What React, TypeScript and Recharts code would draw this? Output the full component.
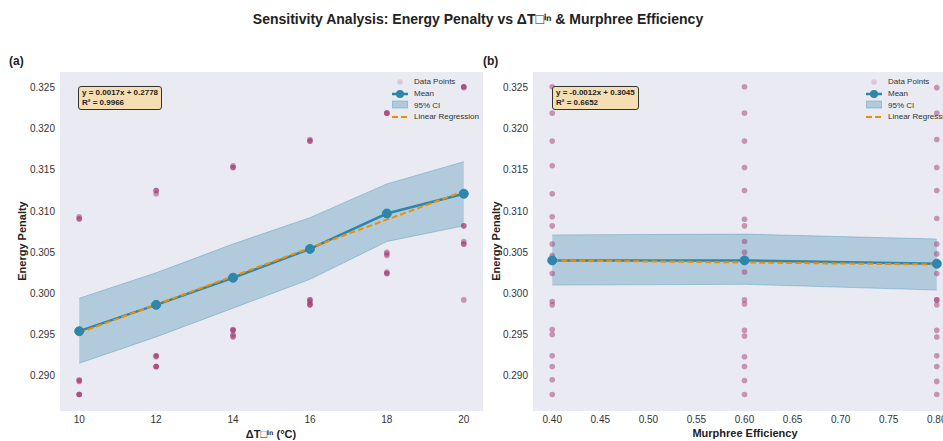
import {
  ComposedChart,
  XAxis,
  YAxis,
  CartesianGrid,
  Scatter,
  Line,
  Area,
} from "recharts";

const deltaT = [10, 12, 14, 16, 18, 20];
const efficiencies = [0.4, 0.6, 0.8];

// energy penalty samples, 3 per ΔT (ΔT order), one array per efficiency
const penaltyEff040 = [
  0.3093, 0.2895, 0.2877, 0.3121, 0.2924, 0.2911, 0.3155, 0.2956, 0.295,
  0.3185, 0.299, 0.2986, 0.3219, 0.3046, 0.3024, 0.3251, 0.3082, 0.306,
];
const penaltyEff060 = [
  0.309, 0.2894, 0.2877, 0.3125, 0.2923, 0.2911, 0.3153, 0.2955, 0.2948,
  0.3185, 0.2992, 0.2987, 0.3219, 0.305, 0.3026, 0.3251, 0.3082, 0.3063,
];
const penaltyEff080 = [
  0.3091, 0.2893, 0.2877, 0.3125, 0.2924, 0.2911, 0.3153, 0.2955, 0.2947,
  0.3187, 0.2992, 0.2986, 0.3219, 0.3048, 0.3024, 0.325, 0.2992, 0.306,
];
const penaltyByEff = [penaltyEff040, penaltyEff060, penaltyEff080];

const meanA = [0.2954, 0.2986, 0.3019, 0.3054, 0.3097, 0.3121];
const ciLowA = [0.2915, 0.2947, 0.2982, 0.3017, 0.3063, 0.3082];
const ciHighA = [0.2994, 0.3025, 0.306, 0.3092, 0.3133, 0.316];
const regA = [
  { x: 10, y: 0.2952 },
  { x: 20, y: 0.3124 },
];

const meanB = [0.304, 0.304, 0.3036];
const ciLowB = [0.301, 0.3011, 0.3004];
const ciHighB = [0.3071, 0.3072, 0.3066];
const regB = [
  { x: 0.4, y: 0.304 },
  { x: 0.8, y: 0.3035 },
];

const yTicks = [0.29, 0.295, 0.3, 0.305, 0.31, 0.315, 0.32, 0.325];
const xTicksA = [10, 12, 14, 16, 18, 20];
const xTicksB = [0.4, 0.45, 0.5, 0.55, 0.6, 0.65, 0.7, 0.75, 0.8];

const pointsA = efficiencies.flatMap((_, k) =>
  deltaT.flatMap((t, i) =>
    penaltyByEff[k].slice(3 * i, 3 * i + 3).map((v) => ({ x: t, y: v }))
  )
);
const pointsB = efficiencies.flatMap((e, k) =>
  penaltyByEff[k].map((v) => ({ x: e, y: v }))
);

const rowsA = deltaT.map((t, i) => ({
  x: t,
  mean: meanA[i],
  ci: [ciLowA[i], ciHighA[i]],
}));
const rowsB = efficiencies.map((e, i) => ({
  x: e,
  mean: meanB[i],
  ci: [ciLowB[i], ciHighB[i]],
}));

const FONT = "'Liberation Sans', Arial, sans-serif";
const BLUE = "#2e86ab";
const ORANGE = "#f18f01";
const PINK = "#a23b72";
const tick = { fill: "#333", fontSize: 10, fontFamily: FONT };

const dot = (props: any) => (
  <circle cx={props.cx} cy={props.cy} r={2.8} fill={PINK} fillOpacity={0.5} />
);

function Panel({
  rows,
  points,
  reg,
  domain,
  ticks,
  fmt,
}: {
  rows: any[];
  points: any[];
  reg: any[];
  domain: number[];
  ticks: number[];
  fmt: (v: number) => string;
}) {
  return (
    <ComposedChart
      width={490}
      height={441}
      data={rows}
      margin={{ top: 72, right: 7, bottom: 0, left: 0 }}
    >
      <rect x={60} y={72} width={423} height={339} fill="#eaeaf2" />
      <CartesianGrid stroke="#ffffff" strokeDasharray="2 2" />
      <XAxis
        dataKey="x"
        type="number"
        domain={domain}
        ticks={ticks}
        tickFormatter={fmt}
        allowDataOverflow
        height={30}
        axisLine={false}
        tickLine={false}
        tickSize={0}
        tickMargin={5}
        tick={tick}
      />
      <YAxis
        dataKey="y"
        type="number"
        domain={[0.2857, 0.3269]}
        ticks={yTicks}
        tickFormatter={(v: number) => v.toFixed(3)}
        allowDataOverflow
        width={60}
        axisLine={false}
        tickLine={false}
        tickSize={0}
        tickMargin={5}
        tick={tick}
      />
      <Scatter data={points} dataKey="y" shape={dot} isAnimationActive={false} />
      <Area
        dataKey="ci"
        type="linear"
        stroke={BLUE}
        strokeOpacity={0.35}
        strokeWidth={1}
        fill={BLUE}
        fillOpacity={0.3}
        isAnimationActive={false}
      />
      <Line
        dataKey="mean"
        type="linear"
        stroke={BLUE}
        strokeWidth={2.5}
        dot={{ r: 4.5, fill: BLUE, stroke: BLUE, strokeWidth: 1 }}
        activeDot={false}
        isAnimationActive={false}
      />
      <Line
        data={reg}
        dataKey="y"
        type="linear"
        stroke={ORANGE}
        strokeWidth={2}
        strokeDasharray="6 3"
        dot={false}
        activeDot={false}
        isAnimationActive={false}
      />
    </ComposedChart>
  );
}

function LegendBox({ left, top }: { left: number; top: number }) {
  const row = { height: 11.7, display: "flex", alignItems: "center" } as const;
  const label = { marginLeft: 6, fontSize: 8, color: "#333", whiteSpace: "nowrap" } as const;
  return (
    <div style={{ position: "absolute", left, top, fontFamily: FONT }}>
      <div style={row}>
        <svg width={16} height={10}>
          <circle cx={8} cy={5} r={2.8} fill={PINK} fillOpacity={0.2} />
        </svg>
        <span style={label}>Data Points</span>
      </div>
      <div style={row}>
        <svg width={16} height={10}>
          <line x1={0} y1={5} x2={16} y2={5} stroke={BLUE} strokeWidth={2.5} />
          <circle cx={8} cy={5} r={4} fill={BLUE} />
        </svg>
        <span style={label}>Mean</span>
      </div>
      <div style={row}>
        <svg width={16} height={10}>
          <rect x={0.5} y={1} width={15} height={7} fill={BLUE} fillOpacity={0.3} stroke={BLUE} strokeOpacity={0.35} />
        </svg>
        <span style={label}>95% CI</span>
      </div>
      <div style={row}>
        <svg width={16} height={10}>
          <line x1={0} y1={5} x2={16} y2={5} stroke={ORANGE} strokeWidth={2} strokeDasharray="6 3" />
        </svg>
        <span style={label}>Linear Regression</span>
      </div>
    </div>
  );
}

function EqBox({ left, lines }: { left: number; lines: string[] }) {
  return (
    <div
      style={{
        position: "absolute",
        left,
        top: 86,
        padding: "1px 3px",
        background: "#f5deb3",
        border: "1px solid #333",
        borderRadius: 3,
        fontFamily: FONT,
        fontWeight: "bold",
        fontSize: 8,
        lineHeight: "10px",
        color: "#222",
      }}
    >
      {lines.map((l) => (
        <div key={l}>{l}</div>
      ))}
    </div>
  );
}

const text = (s: any) => ({ position: "absolute", fontFamily: FONT, color: "#222", whiteSpace: "nowrap", ...s }) as any;

export default function App() {
  return (
    <div
      style={{
        position: "fixed",
        left: 0,
        top: 0,
        width: 943,
        height: 441,
        overflow: "hidden",
        background: "#fff",
      }}
    >
      <div style={{ position: "absolute", left: 0, top: 0 }}>
        <Panel
          rows={rowsA}
          points={pointsA}
          reg={regA}
          domain={[9.5, 20.5]}
          ticks={xTicksA}
          fmt={(v) => String(v)}
        />
      </div>
      <div style={{ position: "absolute", left: 473, top: 0 }}>
        <Panel
          rows={rowsB}
          points={pointsB}
          reg={regB}
          domain={[0.38, 0.82]}
          ticks={xTicksB}
          fmt={(v) => v.toFixed(2)}
        />
      </div>

      <div style={text({ left: 0, width: 956, top: 9, textAlign: "center", fontSize: 14, fontWeight: "bold" })}>
        Sensitivity Analysis: Energy Penalty vs ΔT□ⁱⁿ &amp; Murphree Efficiency
      </div>
      <div style={text({ left: 9, top: 54, fontSize: 12, fontWeight: "bold" })}>(a)</div>
      <div style={text({ left: 483, top: 54, fontSize: 12, fontWeight: "bold" })}>(b)</div>

      <div style={text({ left: 22, top: 241, fontSize: 11, fontWeight: "bold", transform: "translate(-50%, -50%) rotate(-90deg)" })}>
        Energy Penalty
      </div>
      <div style={text({ left: 496, top: 241, fontSize: 11, fontWeight: "bold", transform: "translate(-50%, -50%) rotate(-90deg)" })}>
        Energy Penalty
      </div>
      <div style={text({ left: 271, top: 433, fontSize: 11, fontWeight: "bold", transform: "translate(-50%, -50%)" })}>
        ΔT□ⁱⁿ (°C)
      </div>
      <div style={text({ left: 745, top: 433, fontSize: 11, fontWeight: "bold", transform: "translate(-50%, -50%)" })}>
        Murphree Efficiency
      </div>

      <LegendBox left={392} top={76} />
      <LegendBox left={866} top={76} />
      <EqBox left={78} lines={["y = 0.0017x + 0.2778", "R² = 0.9966"]} />
      <EqBox left={552} lines={["y = -0.0012x + 0.3045", "R² = 0.6652"]} />
    </div>
  );
}
